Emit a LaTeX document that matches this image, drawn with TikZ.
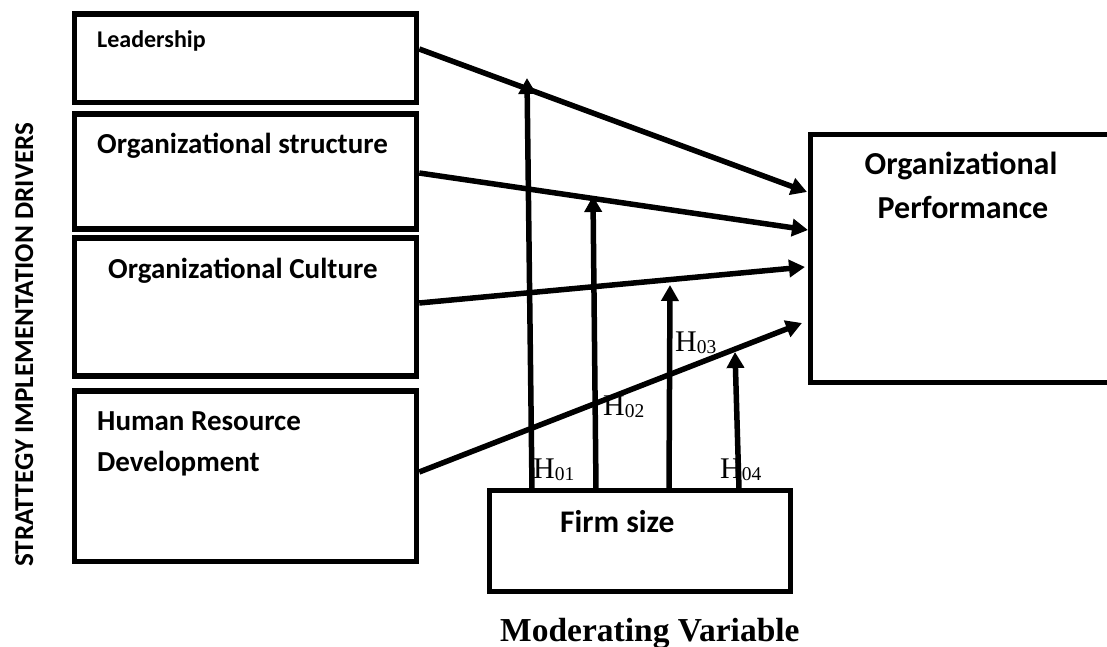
\documentclass[tikz,border=0pt]{standalone}
\usepackage{fontspec}
\setmainfont{Liberation Serif}
\newfontfamily\calfont{Carlito}
\usetikzlibrary{arrows.meta}
\newcommand\hlab[1]{H\raisebox{-2pt}{\fontsize{19.5}{20}\selectfont #1}}
\begin{document}
\begin{tikzpicture}[x=1pt,y=-1pt,
  box/.style={draw, line width=5.5pt, rectangle, inner sep=0pt},
  arr/.style={line width=5.5pt, -{Triangle[length=16pt,width=17pt]}},
  txt/.style={anchor=base west, inner sep=0pt, font={\calfont\bfseries\fontsize{29}{35}\selectfont}},
  hl/.style={anchor=base west, inner sep=0pt, font={\fontsize{30}{36}\selectfont}}]
\useasboundingbox (0,0) rectangle (1107,647);
% driver boxes
\node[box, minimum width=342pt, minimum height=88.5pt] (lead) at (245.5,58.25) {};
\node[box, minimum width=342pt, minimum height=115pt] (struct) at (245.5,171.5) {};
\node[box, minimum width=342pt, minimum height=138pt] (cult) at (245.5,307) {};
\node[box, minimum width=342pt, minimum height=170.5pt] (hrd) at (245.5,476.25) {};
% outcome box (right side runs off the page)
\node[inner sep=0pt, outer sep=0pt, minimum width=296.5pt, minimum height=248pt] (perf) at (958.75,258.5) {};
\draw[line width=5.5pt] (perf.north east) -- (perf.north west) -- (perf.south west) -- (perf.south east);
% moderator box
\node[box, minimum width=301pt, minimum height=101pt] (firm) at (640,541) {};
% texts
\node[txt, font={\calfont\bfseries\fontsize{24}{29}\selectfont}] (tlead) at (97,48) {Leadership};
\node[txt] (tstruct) at (97,154) {Organizational structure};
\node[txt] (tcult) at (108,278) {Organizational Culture};
\node[txt] (thrd1) at (97,430.7) {Human Resource};
\node[txt] (thrd2) at (97,471.7) {Development};
\node[txt, anchor=base, font={\calfont\bfseries\fontsize{32}{38}\selectfont}] (tperf1) at (961,175) {Organizational};
\node[txt, anchor=base, font={\calfont\bfseries\fontsize{32}{38}\selectfont}] (tperf2) at (963,218) {Performance};
\node[txt, font={\calfont\bfseries\fontsize{31.5}{38}\selectfont}] (tfirm) at (560,532) {Firm size};
\node[anchor=base west, inner sep=0pt, font={\bfseries\fontsize{33.5}{40}\selectfont}] (tmod) at (500,641.5) {Moderating Variable};
\node[txt, rotate=90, font={\calfont\bfseries\fontsize{27.2}{32}\selectfont}] (tside) at (33,567) {STRATTEGY IMPLEMENTATION DRIVERS};
% arrow end points
\coordinate (s1) at (lead.east |- 0,49);
\coordinate (s2) at (struct.east |- 0,173);
\coordinate (s3) at (cult.east |- 0,303);
\coordinate (s4) at (hrd.east |- 0,472);
\coordinate (e1) at (807,192);
\coordinate (e2) at (808,230);
\coordinate (e3) at (805,267);
\coordinate (e4) at (802,323);
\draw[arr] (s1) -- (e1);
\draw[arr] (s2) -- (e2);
\draw[arr] (s3) -- (e3);
\draw[arr] (s4) -- (e4);
% moderating arrows
\coordinate (b1) at (532,489);
\coordinate (b2) at (596,489);
\coordinate (b3) at (669,489);
\coordinate (b4) at (739,489);
\coordinate (m1) at (527,78);
\coordinate (m2) at (593,196);
\coordinate (m3) at (670,285);
\coordinate (m4) at (735,352);
\draw[arr] (b1) -- (m1);
\draw[arr] (b2) -- (m2);
\draw[arr] (b3) -- (m3);
\draw[arr] (b4) -- (m4);
% hypothesis labels
\node[hl] (h01) at (533,478) {\hlab{01}};
\node[hl] (h02) at (603,415) {\hlab{02}};
\node[hl] (h03) at (675,351) {\hlab{03}};
\node[hl] (h04) at (720,478) {\hlab{04}};
\end{tikzpicture}
\end{document}
